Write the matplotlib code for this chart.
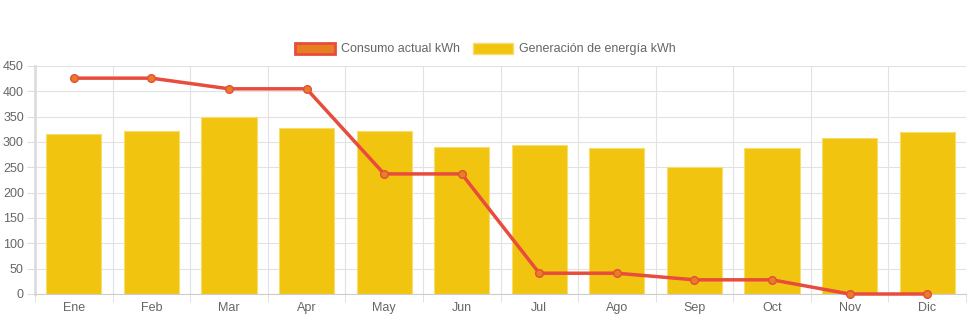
import numpy as np
import matplotlib.pyplot as plt
from matplotlib.patches import Patch

plt.rcParams['font.family'] = ['Liberation Sans', 'DejaVu Sans']

meses = ["Ene", "Feb", "Mar", "Apr", "May", "Jun", "Jul", "Ago", "Sep", "Oct", "Nov", "Dic"]
consumo = [426, 426, 405, 405, 237, 237, 41, 41, 28, 28, 0, 0]
generacion = [316, 322, 349, 328, 322, 290, 294, 288, 250, 288, 308, 320]

fig = plt.figure(figsize=(9.71, 3.23), dpi=100)
ax = fig.add_axes([35 / 971, 29 / 323, 931 / 971, 228 / 323])

x = np.arange(len(meses))
ax.bar(x, generacion, width=0.71, color="#F1C40F", edgecolor="#F7DC6F", linewidth=0.8, zorder=2)
ax.plot(x, consumo, color="#E74C3C", linewidth=2.5, marker="o", markersize=5.5,
        markerfacecolor="#E67E22", markeredgecolor="#E74C3C", markeredgewidth=1, zorder=3,
        clip_on=False)

ax.set_xlim(-0.5, len(meses) - 0.5)
ax.set_ylim(0, 450)
ax.set_yticks(range(0, 451, 50))
ax.set_xticks(x)
ax.set_xticklabels(meses)
ax.set_xticks(np.arange(-0.5, len(meses), 1), minor=True)
ax.tick_params(axis="x", which="major", length=0, pad=6, labelsize=9, labelcolor="#666666")
ax.tick_params(axis="x", which="minor", length=6, color="#dddddd", direction="out")
ax.tick_params(axis="y", length=6, color="#dddddd", labelsize=9, labelcolor="#666666", pad=2)
ax.grid(True, axis="y", color="#e2e2e2", linewidth=0.8, zorder=0)
ax.grid(True, axis="x", which="minor", color="#e2e2e2", linewidth=0.8, zorder=0)
ax.set_axisbelow(True)
for s in ["top", "right"]:
    ax.spines[s].set_visible(False)
ax.spines["left"].set_color("#dddddd")
ax.spines["left"].set_linewidth(2)
ax.spines["bottom"].set_color("#cccccc")

handles = [Patch(facecolor="#E67E22", edgecolor="#E74C3C", linewidth=2, label="Consumo actual kWh"),
           Patch(facecolor="#F1C40F", edgecolor="#F7DC6F", linewidth=1, label="Generación de energía kWh")]
leg = fig.legend(handles=handles, loc="center", bbox_to_anchor=(0.5, 1 - 49 / 323), ncol=2,
                 frameon=False, fontsize=9, handlelength=3.2, handleheight=1.0,
                 columnspacing=1.0, handletextpad=0.5)
for t in leg.get_texts():
    t.set_color("#666666")

fig.savefig("out.png", dpi=100)
